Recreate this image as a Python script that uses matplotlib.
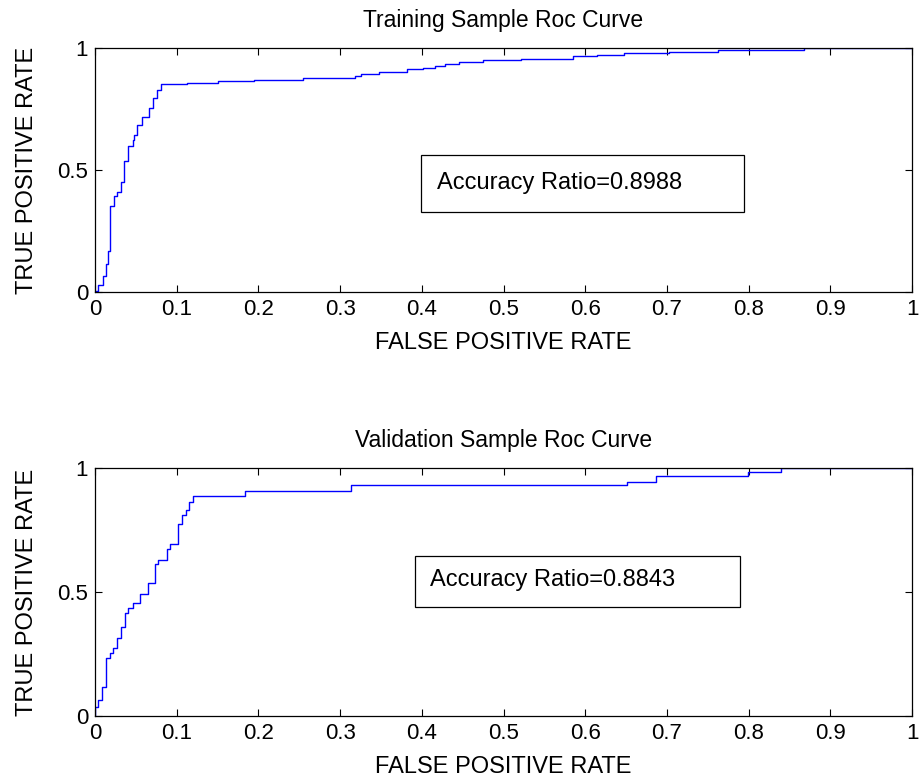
import matplotlib
matplotlib.use("Agg")
import matplotlib.pyplot as plt
from matplotlib.patches import Rectangle

plt.rcParams['font.family'] = ['Liberation Sans', 'DejaVu Sans']

# Training ROC (step points: jump at fpr to tpr)
train_fpr = [0, 0.001, 0.004, 0.010, 0.013, 0.016, 0.018, 0.023, 0.027, 0.032, 0.036,
             0.041, 0.046, 0.048, 0.052, 0.057, 0.066, 0.071, 0.076, 0.081, 0.113,
             0.151, 0.195, 0.255, 0.318, 0.326, 0.348, 0.382, 0.402, 0.416, 0.428,
             0.446, 0.475, 0.522, 0.585, 0.614, 0.647, 0.702, 0.763, 0.868, 1.0]
train_tpr = [0, 0.005, 0.028, 0.067, 0.115, 0.17, 0.351, 0.392, 0.41, 0.45, 0.535,
             0.599, 0.624, 0.645, 0.685, 0.717, 0.754, 0.795, 0.829, 0.852, 0.856,
             0.863, 0.870, 0.878, 0.886, 0.893, 0.900, 0.914, 0.920, 0.928, 0.935,
             0.942, 0.949, 0.956, 0.966, 0.972, 0.979, 0.985, 0.992, 1.0, 1.0]

# Validation ROC
valid_fpr = [0, 0, 0.004, 0.009, 0.013, 0.018, 0.022, 0.027, 0.032, 0.037, 0.041,
             0.046, 0.055, 0.065, 0.073, 0.077, 0.088, 0.092, 0.101, 0.106, 0.111,
             0.115, 0.120, 0.184, 0.313, 0.651, 0.687, 0.799, 0.840, 1.0]
valid_tpr = [0, 0.037, 0.065, 0.118, 0.233, 0.255, 0.275, 0.313, 0.358, 0.414, 0.437,
             0.457, 0.492, 0.535, 0.613, 0.629, 0.672, 0.694, 0.773, 0.81, 0.831,
             0.864, 0.887, 0.908, 0.930, 0.944, 0.967, 0.985, 1.0, 1.0]

titles = ["Training Sample Roc Curve", "Validation Sample Roc Curve"]
ratios = ["Accuracy Ratio=0.8988", "Accuracy Ratio=0.8843"]
xticks = [0, 0.1, 0.2, 0.3, 0.4, 0.5, 0.6, 0.7, 0.8, 0.9, 1]
xticklabels = ["0", "0.1", "0.2", "0.3", "0.4", "0.5", "0.6", "0.7", "0.8", "0.9", "1"]
yticks = [0, 0.5, 1]
yticklabels = ["0", "0.5", "1"]

fig = plt.figure(figsize=(9.24, 7.79), dpi=100)
W, H = 924, 779
axes_px = [(95, 48, 912, 292), (95, 468, 912, 716)]
boxes = [(0.399, 0.328, 0.395, 0.233, 0.419, 0.447),
         (0.392, 0.44, 0.397, 0.205, 0.41, 0.548)]
data = [(train_fpr, train_tpr), (valid_fpr, valid_tpr)]

for i, (l, t, r, b) in enumerate(axes_px):
    ax = fig.add_axes([l / W, 1 - b / H, (r - l) / W, (b - t) / H])
    fpr, tpr = data[i]
    ax.plot(fpr, tpr, drawstyle='steps-post', color='#0000ff', lw=1.0)
    ax.set_xlim(0, 1)
    ax.set_ylim(0, 1)
    ax.set_xticks(xticks)
    ax.set_xticklabels(xticklabels)
    ax.set_yticks(yticks)
    ax.set_yticklabels(yticklabels)
    ax.tick_params(direction='in', top=True, right=True, length=5, width=0.8,
                   labelsize=16, pad=5)
    for s in ax.spines.values():
        s.set_linewidth(0.9)
    ax.set_title(titles[i], fontsize=16.5, pad=15)
    ax.set_xlabel("FALSE POSITIVE RATE", fontsize=17, labelpad=9)
    ax.set_ylabel("TRUE POSITIVE RATE", fontsize=17, labelpad=14)
    bx, by, bw, bh, tx, ty = boxes[i]
    ax.add_patch(Rectangle((bx, by), bw, bh, transform=ax.transAxes,
                           facecolor='white', edgecolor='black', lw=0.9, zorder=3))
    ax.text(tx, ty, ratios[i], transform=ax.transAxes, fontsize=17,
            va='center', ha='left', zorder=4)

fig.savefig("out.png", dpi=100)
